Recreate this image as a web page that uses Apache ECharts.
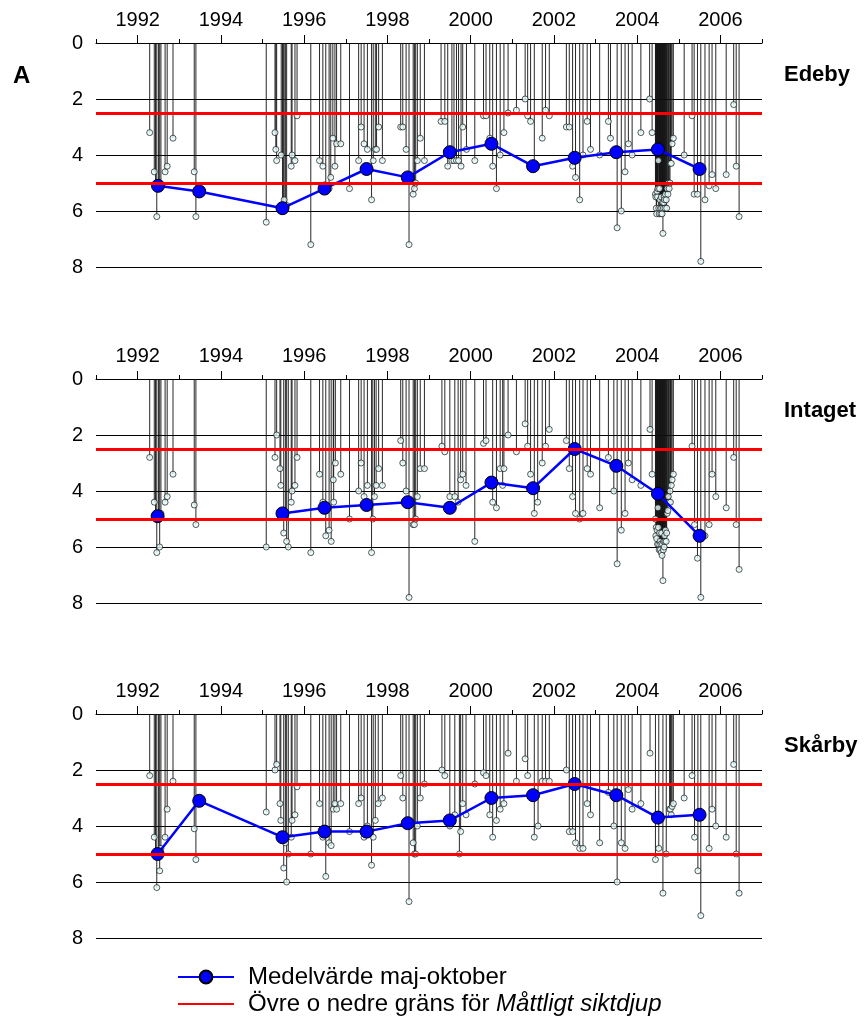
<!DOCTYPE html>
<html>
<head>
<meta charset="utf-8">
<script src="https://cdn.jsdelivr.net/npm/echarts@6/dist/echarts.min.js"></script>
<style>
  html, body { margin: 0; padding: 0; background: #fff; }
  #chart { width: 867px; height: 1034px; }
</style>
</head>
<body>
<div id="chart"></div>
<script>
// siktdjup (m) per provtagning: [år, djup]
var edebySamples = [
	[1992.29,3.2],[1992.40,4.6],[1992.43,5.1],[1992.46,6.2],[1992.50,5.2],[1992.53,5.2],[1992.56,5.1],[1992.66,4.6],[1992.71,4.4],[1992.85,3.4],
	[1993.36,4.6],[1993.40,6.2],
	[1995.09,6.4],[1995.30,3.2],[1995.32,3.8],[1995.34,4.2],[1995.45,4.0],[1995.48,5.9],[1995.50,5.9],[1995.52,5.6],[1995.55,5.9],[1995.58,5.8],[1995.69,4.4],[1995.71,4.0],[1995.78,4.2],[1995.83,2.6],
	[1996.16,7.2],[1996.37,4.2],[1996.45,4.4],[1996.52,5.2],[1996.60,5.2],[1996.64,4.8],[1996.69,3.4],[1996.74,4.4],[1996.78,3.6],[1996.88,3.6],
	[1997.09,5.2],[1997.31,4.2],[1997.37,3.0],[1997.44,3.6],[1997.52,3.8],[1997.62,5.6],[1997.66,4.2],[1997.71,3.8],[1997.74,3.8],[1997.79,3.0],[1997.88,4.2],
	[1998.32,3.0],[1998.37,3.0],[1998.45,3.8],[1998.52,7.2],[1998.62,5.4],[1998.65,5.2],[1998.68,5.0],[1998.72,4.2],[1998.79,3.4],[1998.89,4.2],
	[1999.29,2.8],[1999.38,2.8],[1999.45,4.4],[1999.55,4.2],[1999.60,4.2],[1999.66,4.2],[1999.71,4.2],[1999.77,4.4],[1999.81,3.0],[1999.90,3.8],
	[2000.10,4.2],[2000.31,2.6],[2000.37,2.6],[2000.46,3.4],[2000.53,4.4],[2000.62,5.2],[2000.71,4.0],[2000.80,3.2],[2000.90,2.5],
	[2001.10,2.4],[2001.31,2.0],[2001.37,2.6],[2001.44,2.8],[2001.53,4.4],[2001.72,3.4],[2001.80,2.4],[2001.89,2.6],
	[2002.30,3.0],[2002.37,3.0],[2002.45,4.4],[2002.52,4.8],[2002.62,5.6],[2002.70,4.0],[2002.80,2.8],[2002.88,3.8],
	[2003.10,4.0],[2003.31,2.8],[2003.36,3.4],[2003.52,6.6],[2003.62,6.0],[2003.71,4.6],[2003.79,3.6],[2003.88,4.0],
	[2004.09,3.2],[2004.30,2.0],[2004.36,3.2],
	[2004.44,5.4],[2004.45,5.5],[2004.46,5.9],[2004.47,6.1],[2004.48,5.3],[2004.49,5.5],[2004.50,5.2],[2004.51,4.2],[2004.52,5.9],[2004.53,6.1],
	[2004.54,5.2],[2004.55,5.6],[2004.56,5.9],[2004.57,6.1],[2004.58,5.5],[2004.59,5.9],[2004.60,6.1],[2004.61,5.7],[2004.62,6.8],[2004.63,5.9],
	[2004.64,5.7],[2004.65,5.5],[2004.66,5.6],[2004.67,5.9],[2004.68,5.4],[2004.70,5.6],[2004.71,5.9],[2004.72,5.2],[2004.74,5.4],[2004.75,5.0],
	[2004.77,5.2],[2004.79,5.0],[2004.80,4.3],[2004.82,4.3],[2004.84,3.6],[2004.87,3.4],
	[2005.13,4.0],[2005.32,2.6],[2005.37,5.4],[2005.45,5.4],[2005.53,7.8],[2005.63,5.6],[2005.73,5.1],[2005.80,4.7],[2005.89,5.2],
	[2006.14,4.7],[2006.32,2.2],[2006.38,4.4],[2006.45,6.2]
];
var intagetSamples = [
	[1992.29,2.8],[1992.40,4.4],[1992.43,4.9],[1992.46,6.2],[1992.50,4.8],[1992.53,6.0],[1992.56,4.8],[1992.66,4.4],[1992.71,4.2],[1992.85,3.4],
	[1993.36,4.5],[1993.40,5.2],
	[1995.09,6.0],[1995.30,2.8],[1995.34,2.0],[1995.42,3.2],[1995.44,3.8],[1995.51,5.5],[1995.55,4.8],[1995.58,5.8],[1995.62,6.0],[1995.69,4.4],[1995.71,4.0],[1995.78,3.8],[1995.83,2.8],
	[1996.16,6.2],[1996.37,3.4],[1996.45,4.4],[1996.52,5.6],[1996.60,5.4],[1996.65,5.8],[1996.70,3.6],[1996.71,4.4],[1996.75,3.0],[1996.88,3.4],
	[1997.09,5.0],[1997.31,4.0],[1997.37,3.0],[1997.44,4.2],[1997.52,3.8],[1997.62,6.2],[1997.65,5.0],[1997.69,4.2],[1997.73,3.8],[1997.79,3.2],[1997.88,3.8],
	[1998.32,2.2],[1998.37,3.0],[1998.45,4.0],[1998.52,7.8],[1998.62,5.2],[1998.65,5.2],[1998.68,5.0],[1998.72,4.2],[1998.79,3.2],[1998.89,3.2],
	[1999.31,2.4],[1999.38,2.6],[1999.50,4.2],[1999.62,4.2],[1999.70,4.4],[1999.76,3.6],[1999.81,3.4],[1999.89,3.8],
	[2000.10,5.8],[2000.31,2.3],[2000.37,2.2],[2000.53,4.4],[2000.62,4.6],[2000.71,3.2],[2000.77,3.8],[2000.80,3.2],[2000.90,2.0],
	[2001.10,2.6],[2001.31,1.6],[2001.37,2.4],[2001.44,3.4],[2001.53,4.8],[2001.61,4.4],[2001.72,3.0],[2001.80,2.4],[2001.89,1.8],
	[2002.30,2.2],[2002.37,3.2],[2002.45,4.2],[2002.52,4.8],[2002.62,5.0],[2002.70,4.8],[2002.80,3.2],[2002.88,3.4],
	[2003.10,4.6],[2003.31,2.8],[2003.44,4.0],[2003.52,6.6],[2003.62,5.4],[2003.71,4.8],[2003.79,3.0],[2003.88,3.6],
	[2004.09,3.8],[2004.31,1.8],[2004.36,3.4],
	[2004.44,5.0],[2004.45,5.6],[2004.46,5.3],[2004.47,5.7],[2004.48,5.4],[2004.49,5.9],[2004.50,4.6],[2004.51,5.3],[2004.52,5.9],[2004.53,6.1],
	[2004.54,5.5],[2004.55,5.8],[2004.56,6.1],[2004.57,5.9],[2004.58,6.2],[2004.59,5.5],[2004.60,6.3],[2004.61,5.9],[2004.62,7.2],[2004.63,6.1],
	[2004.64,5.8],[2004.65,6.0],[2004.66,5.6],[2004.67,5.8],[2004.68,5.4],[2004.70,5.8],[2004.71,5.5],[2004.72,4.8],[2004.74,4.7],[2004.75,4.2],
	[2004.77,4.4],[2004.79,4.0],[2004.80,4.4],[2004.82,3.8],[2004.84,3.6],[2004.87,3.4],
	[2005.32,2.4],[2005.38,5.2],[2005.45,6.4],[2005.53,7.8],[2005.63,5.6],[2005.73,5.2],[2005.80,3.4],[2005.89,4.2],
	[2006.14,4.6],[2006.32,2.8],[2006.38,5.2],[2006.45,6.8]
];
var skarbySamples = [
	[1992.29,2.2],[1992.40,4.4],[1992.43,5.0],[1992.46,6.2],[1992.50,5.0],[1992.53,5.6],[1992.56,4.8],[1992.66,4.4],[1992.71,3.4],[1992.85,2.4],
	[1993.36,4.1],[1993.40,5.2],
	[1995.09,3.5],[1995.30,2.0],[1995.34,1.8],[1995.42,3.2],[1995.44,3.8],[1995.51,5.5],[1995.55,4.6],[1995.58,6.0],[1995.62,5.0],[1995.69,4.4],[1995.71,3.8],[1995.78,3.6],[1995.83,2.6],
	[1996.16,5.0],[1996.37,3.2],[1996.45,4.4],[1996.52,5.8],[1996.60,4.6],[1996.65,4.7],[1996.70,3.4],[1996.74,3.2],[1996.78,3.4],[1996.88,3.2],
	[1997.09,4.2],[1997.31,3.2],[1997.37,3.0],[1997.44,4.4],[1997.52,4.0],[1997.62,5.4],[1997.66,4.4],[1997.71,3.8],[1997.78,3.2],[1997.88,3.0],
	[1998.32,2.2],[1998.37,3.0],[1998.45,4.0],[1998.52,6.7],[1998.62,4.6],[1998.65,5.0],[1998.68,5.0],[1998.72,4.0],[1998.79,3.0],[1998.89,2.5],
	[1999.31,2.0],[1999.38,2.2],[1999.50,4.0],[1999.62,3.6],[1999.73,5.0],[1999.76,4.2],[1999.81,3.2],[1999.89,3.6],
	[2000.10,2.5],[2000.31,2.1],[2000.37,2.2],[2000.46,3.6],[2000.53,4.4],[2000.62,3.8],[2000.71,3.4],[2000.80,3.2],[2000.90,1.4],
	[2001.10,2.4],[2001.31,1.6],[2001.37,2.2],[2001.53,4.4],[2001.62,4.0],[2001.72,2.4],[2001.80,2.4],[2001.89,2.4],
	[2002.30,2.0],[2002.37,4.2],[2002.45,4.2],[2002.52,4.6],[2002.62,4.8],[2002.70,4.8],[2002.80,3.2],[2002.88,3.6],
	[2003.10,4.6],[2003.31,2.8],[2003.44,4.0],[2003.52,6.0],[2003.62,4.6],[2003.71,4.8],[2003.79,2.7],[2003.88,3.4],
	[2004.09,3.2],[2004.31,1.4],[2004.44,5.2],[2004.52,4.8],[2004.62,6.4],[2004.70,5.0],[2004.78,3.4],[2004.80,3.4],[2004.82,3.6],[2004.84,3.3],[2004.87,3.2],
	[2005.13,3.0],[2005.32,2.2],[2005.38,4.4],[2005.46,5.6],[2005.53,7.2],[2005.73,4.8],[2005.80,3.4],[2005.89,4.0],
	[2006.14,4.4],[2006.32,1.8],[2006.38,5.0],[2006.45,6.4]
];

// medelvärde maj-oktober
var edebyMean = [[1992.49,5.1],[1993.48,5.3],[1995.48,5.9],[1996.49,5.2],[1997.5,4.5],[1998.49,4.8],[1999.5,3.9],[2000.5,3.6],[2001.5,4.4],[2002.5,4.1],[2003.5,3.9],[2004.5,3.8],[2005.5,4.5]];
var intagetMean = [[1992.48,4.9],[1993.48,'-'],[1995.48,4.8],[1996.49,4.6],[1997.5,4.5],[1998.49,4.4],[1999.5,4.6],[2000.5,3.7],[2001.5,3.9],[2002.5,2.5],[2003.5,3.1],[2004.5,4.1],[2005.5,5.6]];
var skarbyMean = [[1992.48,5.0],[1993.48,3.1],[1995.48,4.4],[1996.49,4.2],[1997.5,4.2],[1998.49,3.9],[1999.5,3.8],[2000.5,3.0],[2001.5,2.9],[2002.5,2.5],[2003.5,2.9],[2004.5,3.7],[2005.5,3.6]];

// gränser för "Måttligt siktdjup"
var limitValues = [2.5, 5];

var years = ['1991','1992','1993','1994','1995','1996','1997','1998','1999','2000','2001','2002','2003','2004','2005','2006','2007'];
var stations = ['Edeby', 'Intaget', 'Skårby'];
var meanName = 'Medelvärde maj-oktober';
var limitName = 'Övre o nedre gräns för Måttligt siktdjup';

var FONT = '"Liberation Sans", Arial, sans-serif';

var panels = [
	{ samples: edebySamples, mean: edebyMean, top: 43 },
	{ samples: intagetSamples, mean: intagetMean, top: 379 },
	{ samples: skarbySamples, mean: skarbyMean, top: 714 }
];

var grids = [], xAxes = [], yAxes = [], series = [], graphics = [];

function evenYear(i, v) {
	return Number(v) % 2 === 0;
}

panels.forEach(function(p, i) {
	grids.push({ left: 96, width: 666, top: p.top, height: 224 });

	// värdeaxel för data (korta streck varje år)
	xAxes.push({
		type: 'value', gridIndex: i, position: 'top',
		min: 1991, max: 2007, interval: 1,
		axisLine: { show: true, lineStyle: { color: '#000', width: 1 } },
		axisTick: { show: true, length: 4, lineStyle: { color: '#000' } },
		axisLabel: { show: false },
		splitLine: { show: false }
	});
	// kategoriaxel för årsetiketter och långa streck
	xAxes.push({
		type: 'category', gridIndex: i, position: 'top',
		data: years, boundaryGap: false,
		axisLine: { show: false },
		axisTick: { show: true, length: 8, interval: evenYear, lineStyle: { color: '#000' } },
		axisLabel: { show: true, interval: evenYear, margin: 13, color: '#000', fontSize: 20, fontFamily: FONT },
		splitLine: { show: false }
	});
	yAxes.push({
		type: 'value', gridIndex: i, inverse: true,
		min: 0, max: 8, interval: 2,
		axisLine: { show: false },
		axisTick: { show: false },
		axisLabel: { color: '#000', fontSize: 20, fontFamily: FONT, margin: 13 },
		splitLine: { show: true, lineStyle: { color: '#000', width: 1 } }
	});

	// lodlinjer från ytan ner till siktdjupet
	series.push({
		type: 'custom', xAxisIndex: i * 2, yAxisIndex: i,
		data: p.samples, z: 1, silent: true,
		encode: { x: 0, y: 1 },
		renderItem: function(params, api) {
			var a = api.coord([api.value(0), 0]);
			var b = api.coord([api.value(0), api.value(1)]);
			return {
				type: 'line',
				shape: { x1: a[0], y1: a[1], x2: b[0], y2: b[1] },
				style: { stroke: '#111', lineWidth: 0.9 }
			};
		}
	});
	// gränslinjer
	series.push({
		name: limitName, type: 'line', xAxisIndex: i * 2, yAxisIndex: i,
		data: [], symbol: 'none', color: '#ff0000', z: 2,
		lineStyle: { color: '#ff0000', width: 3 },
		markLine: {
			silent: true, symbol: 'none', animation: false,
			label: { show: false },
			lineStyle: { color: '#ff0000', width: 3, type: 'solid' },
			data: limitValues.map(function(v) { return { yAxis: v }; })
		}
	});
	// enskilda mätningar
	series.push({
		type: 'scatter', xAxisIndex: i * 2, yAxisIndex: i,
		data: p.samples, symbol: 'circle', symbolSize: 6, z: 3, silent: true,
		itemStyle: { color: '#e6fbfb', borderColor: '#000', borderWidth: 0.8 }
	});
	// medelvärde
	series.push({
		name: meanName, type: 'line', xAxisIndex: i * 2, yAxisIndex: i,
		data: p.mean, symbol: 'circle', symbolSize: 13, z: 4,
		connectNulls: false, color: '#0000ff',
		lineStyle: { color: '#0000ff', width: 2.5 },
		itemStyle: { color: '#0000ff', borderColor: '#000', borderWidth: 1 }
	});

	graphics.push({
		type: 'text', left: 784, top: p.top + 21,
		style: { text: stations[i], font: 'bold 22px ' + FONT, fill: '#000' }
	});
});

graphics.push({
	type: 'text', left: 13, top: 64,
	style: { text: 'A', font: 'bold 24px ' + FONT, fill: '#000' }
});

var chart = echarts.init(document.getElementById('chart'));
chart.setOption({
	animation: false,
	backgroundColor: '#fff',
	textStyle: { fontFamily: FONT },
	grid: grids,
	xAxis: xAxes,
	yAxis: yAxes,
	series: series,
	graphic: graphics,
	legend: {
		data: [
			{ name: meanName },
			{ name: limitName, itemStyle: { opacity: 0 } }
		],
		orient: 'vertical',
		left: 172, top: 960,
		itemWidth: 56, itemHeight: 16, itemGap: 3,
		selectedMode: false,
		textStyle: {
			color: '#000', fontSize: 24, fontFamily: FONT,
			rich: {
				n: { fontSize: 24, color: '#000', fontFamily: FONT, padding: [0, 0, 0, 9] },
				i: { fontSize: 24, color: '#000', fontFamily: FONT, fontStyle: 'italic' }
			}
		},
		formatter: function(name) {
			if (name === limitName) {
				return '{n|Övre o nedre gräns för }{i|Måttligt siktdjup}';
			}
			return '{n|' + name + '}';
		}
	}
});
</script>
</body>
</html>
